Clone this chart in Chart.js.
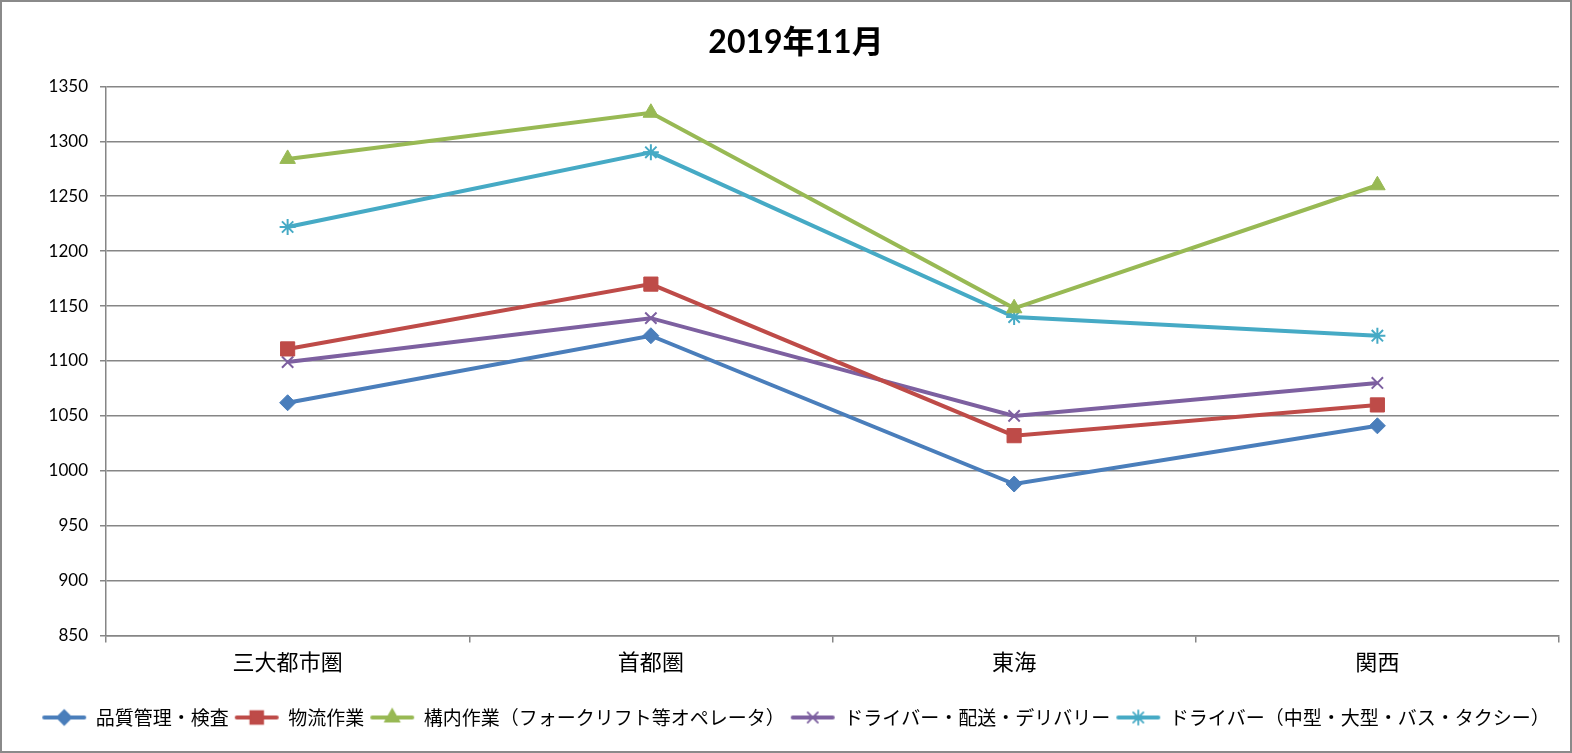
<!DOCTYPE html>
<html>
<head>
<meta charset="utf-8">
<script src="https://cdn.jsdelivr.net/npm/chart.js@4/dist/chart.umd.min.js"></script>
<style>
  html, body { margin: 0; padding: 0; background: #fff; }
  #frame {
    width: 1572px; height: 753px; box-sizing: border-box;
    border: 2px solid #8a8a8a; background: #fff;
  }
  #wrap { width: 1568px; height: 749px; position: relative; }
</style>
</head>
<body>
<div id="frame"><div id="wrap"><canvas id="chart"></canvas></div></div>
<script>
const title = '2019年11月';
const regions = ['三大都市圏', '首都圏', '東海', '関西'];

const seriesNames = [
  '品質管理・検査',
  '物流作業',
  '構内作業（フォークリフト等オペレータ）',
  'ドライバー・配送・デリバリー',
  'ドライバー（中型・大型・バス・タクシー）'
];

const qualityCheck  = [1062, 1123, 988, 1041];
const logistics     = [1111, 1170, 1032, 1060];
const yardWork      = [1284, 1326, 1148, 1260];
const driverDeliver = [1099, 1139, 1050, 1080];
const driverLarge   = [1222, 1290, 1140, 1123];

const yTicks = [850, 900, 950, 1000, 1050, 1100, 1150, 1200, 1250, 1300, 1350];

const colors  = ['#4a7ebb', '#be4b48', '#98b954', '#7d60a0', '#46aac5'];
const markers = ['rectRot', 'rect', 'triangle', 'crossRot', 'star'];
const radii   = [8, 10, 9, 8, 8];

const jpFont = "'Noto Sans CJK JP', 'Noto Sans', sans-serif";
const numFont = "Lato, 'Liberation Sans', sans-serif";

// small legend swatch: line with the marker in the middle
function swatch(i) {
  const c = document.createElement('canvas');
  c.width = 46; c.height = 22;
  const ctx = c.getContext('2d');
  ctx.strokeStyle = colors[i];
  ctx.fillStyle = colors[i];
  ctx.lineWidth = 4;
  ctx.lineCap = 'round';
  ctx.beginPath();
  ctx.moveTo(3, 11); ctx.lineTo(43, 11);
  ctx.stroke();
  ctx.lineWidth = 1.8;
  Chart.helpers.drawPoint(ctx, { pointStyle: markers[i], radius: radii[i] * 0.9, borderWidth: 1.8, rotation: 0 }, 23, 11);
  return c;
}

const allData = [qualityCheck, logistics, yardWork, driverDeliver, driverLarge];

const datasets = allData.map((d, i) => ({
  label: seriesNames[i],
  data: d,
  borderColor: colors[i],
  backgroundColor: colors[i],
  pointBackgroundColor: colors[i],
  pointBorderColor: colors[i],
  borderWidth: 4,
  pointStyle: markers[i],
  pointRadius: radii[i],
  pointHoverRadius: radii[i],
  pointBorderWidth: (markers[i] === 'crossRot' || markers[i] === 'star') ? 2 : 1,
  tension: 0,
  fill: false
}));

const swatches = seriesNames.map((_, i) => swatch(i));

new Chart(document.getElementById('chart'), {
  type: 'line',
  data: { labels: regions, datasets: datasets },
  options: {
    responsive: true,
    maintainAspectRatio: false,
    animation: false,
    layout: { padding: { left: 30, right: 10, top: 6, bottom: 14 } },
    plugins: {
      title: {
        display: true,
        text: title,
        color: '#000',
        font: { family: numFont + ", " + jpFont, size: 32, weight: 'bold' },
        padding: { top: 15, bottom: 25 }
      },
      legend: {
        display: true,
        position: 'bottom',
        labels: {
          usePointStyle: true,
          pointStyleWidth: 44,
          color: '#000',
          font: { family: jpFont, size: 19 },
          padding: 6,
          generateLabels: (chart) => seriesNames.map((name, i) => ({
            text: name,
            pointStyle: swatches[i],
            fillStyle: colors[i],
            strokeStyle: colors[i],
            lineWidth: 0,
            datasetIndex: i,
            hidden: false
          }))
        }
      },
      tooltip: { enabled: false }
    },
    scales: {
      x: {
        offset: true,
        grid: {
          offset: true,
          drawOnChartArea: false,
          drawTicks: true,
          tickLength: 7,
          color: '#868686',
          lineWidth: 1.5
        },
        border: { color: '#868686', width: 1.5 },
        ticks: {
          color: '#000',
          font: { family: jpFont, size: 22 },
          padding: 6
        },
        // empty title only keeps a gap between the labels and the legend
        title: { display: true, text: ' ', font: { size: 10 }, padding: { top: 0, bottom: 9 } }
      },
      y: {
        min: 850,
        max: 1350,
        afterBuildTicks: (scale) => { scale.ticks = yTicks.map(v => ({ value: v })); },
        afterFit: (scale) => { scale.width = 74; },
        grid: {
          color: '#868686',
          lineWidth: 1.5,
          tickLength: 6
        },
        border: { color: '#868686', width: 1.5 },
        ticks: {
          color: '#000',
          font: { family: numFont, size: 17 },
          padding: 12,
          callback: (v) => String(v)
        }
      }
    }
  }
});
</script>
</body>
</html>
